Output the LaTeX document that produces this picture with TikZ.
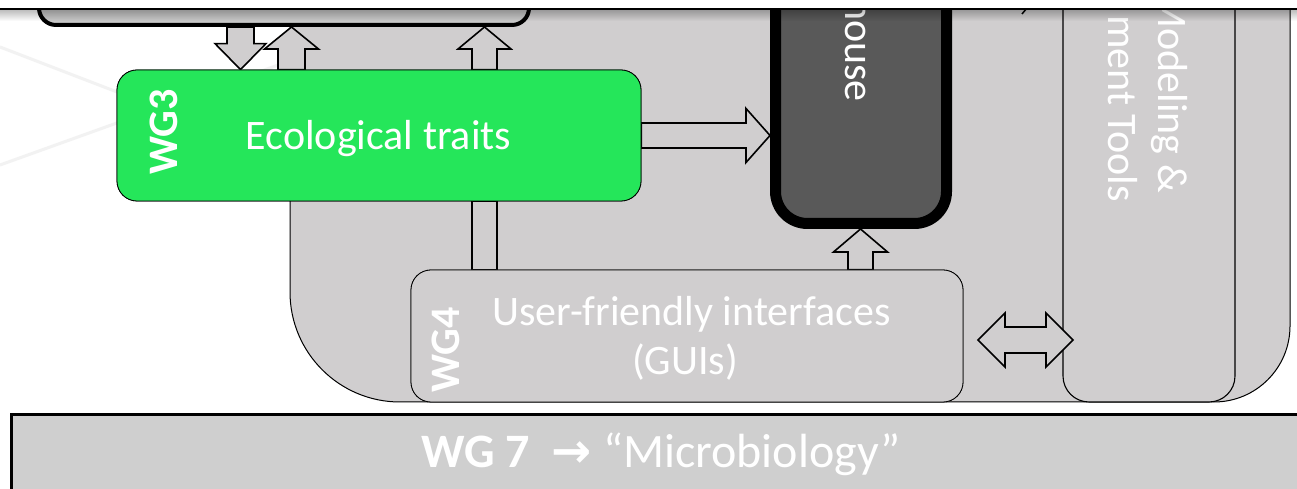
\documentclass[tikz,border=0pt]{standalone}
\usepackage{fontspec}
\setmainfont{Carlito}
\newfontfamily\arrowfont{DejaVu Sans}
\usetikzlibrary{calc}
\definecolor{regiongray}{HTML}{D0CECF}
\definecolor{wggreen}{HTML}{25E65A}
\definecolor{darkfill}{HTML}{595959}
\definecolor{bargray}{HTML}{CFCFCF}
\definecolor{topfill}{HTML}{C8C8C8}
\tikzset{
  blockarr/.style={draw=black, line width=1.6pt, fill=regiongray, line join=miter},
  thinbox/.style={draw=black, line width=0.8pt, rounded corners=20pt, inner sep=0pt},
  lbl/.style={text=white, font=\fontsize{42}{49}\selectfont, inner sep=0pt},
  wglbl/.style={text=white, font=\fontsize{42}{49}\selectfont\bfseries, inner sep=0pt},
  faint/.style={draw=gray!10, line width=3pt},
}
% block arrow: #1 tail, #2 tip, #3 shaft half width, #4 head half width, #5 head length
\newcommand\blockarrow[5]{%
  \coordinate (ba-h) at ($(#2)!#5!(#1)$);
  \draw[blockarr] ($(#1)!#3!90:(#2)$) -- ($(ba-h)!#3!-90:(#1)$) -- ($(ba-h)!#4!-90:(#1)$) -- (#2)
    -- ($(ba-h)!#4!90:(#1)$) -- ($(ba-h)!#3!90:(#1)$) -- ($(#1)!#3!-90:(#2)$) -- cycle;}
% double block arrow
\newcommand\dblockarrow[5]{%
  \coordinate (dba-h1) at ($(#1)!#5!(#2)$);
  \coordinate (dba-h2) at ($(#2)!#5!(#1)$);
  \draw[blockarr] (#1) -- ($(dba-h1)!#4!90:(#2)$) -- ($(dba-h1)!#3!90:(#2)$) -- ($(dba-h2)!#3!-90:(#1)$)
    -- ($(dba-h2)!#4!-90:(#1)$) -- (#2) -- ($(dba-h2)!#4!90:(#1)$) -- ($(dba-h2)!#3!90:(#1)$)
    -- ($(dba-h1)!#3!-90:(#2)$) -- ($(dba-h1)!#4!-90:(#2)$) -- cycle;}

\begin{document}
\begin{tikzpicture}[x=1pt,y=1pt]
\useasboundingbox (0,0) rectangle (1297,489);
\fill[white] (0,0) rectangle (1297,489);
\begin{scope}
\clip (0,0) rectangle (1297,480);
% faint background lines
\draw[faint] (0,442) -- (320,319);
\draw[faint] (0,324) -- (320,439);
% large grey region
\draw[fill=regiongray, line width=1pt] (290,560) -- (290,197) arc[start angle=180, end angle=270, radius=110]
  -- (1214,87) arc[start angle=270, end angle=360, radius=76] -- (1290,560) -- cycle;
% management tools panel
\node[draw=black, line width=1.1pt, fill=regiongray, rounded corners=26pt, inner sep=0pt,
  minimum width=172pt, minimum height=473pt] (mgmt) at (1149,323.5) {};
% top box
\node[draw=black, line width=4pt, fill=topfill, rounded corners=17pt, inner sep=0pt,
  minimum width=490pt, minimum height=96pt] (top) at (284,512) {};
% data warehouse box
\node[draw=black, line width=11pt, fill=darkfill, rounded corners=32pt, inner sep=0pt,
  minimum width=171pt, minimum height=294.5pt] (dark) at (861,412.75) {};
% WG3 and WG4 boxes
\node[thinbox, fill=wggreen, minimum width=524pt, minimum height=131pt] (wg3) at (379,353.5) {};
\node[thinbox, fill=regiongray, minimum width=552pt, minimum height=132pt] (wg4) at (687,153) {};
% guide coordinates
\coordinate (c1) at (240.5,0);
\coordinate (c2) at (291.5,0);
\coordinate (c3) at (484.5,0);
\coordinate (c5) at (860.5,0);
\coordinate (a1s) at (top.south -| c1);
\coordinate (a1e) at (wg3.north -| c1);
\coordinate (a2s) at (wg3.north -| c2);
\coordinate (a2e) at (top.south -| c2);
\coordinate (a3s) at (wg3.north -| c3);
\coordinate (a3e) at (top.south -| c3);
\coordinate (a4s) at (wg3.east);
\coordinate (a4e) at (dark.west |- wg3.east);
\coordinate (a5s) at (wg4.north -| c5);
\coordinate (a5e) at (dark.south -| c5);
\coordinate (a6s) at (wg3.south -| c3);
\coordinate (a6e) at (wg4.north -| c3);
\coordinate (da1) at (978,149);
\coordinate (da2) at (1073,149);
% arrows
\blockarrow{a1s}{a1e}{13.5pt}{25.5pt}{26pt}
\blockarrow{a2s}{a2e}{13.5pt}{27pt}{22pt}
\blockarrow{a3s}{a3e}{12.5pt}{26.5pt}{22pt}
\blockarrow{a4s}{a4e}{12.5pt}{27pt}{24pt}
\blockarrow{a5s}{a5e}{12.5pt}{27pt}{23pt}
\draw[blockarr] ($(a6s)+(-12.5,0)$) rectangle ($(a6e)+(12.5,0)$);
% redraw boxes over arrow ends
\node[thinbox, fill=wggreen, minimum width=524pt, minimum height=131pt] at (wg3) {};
\node[thinbox, fill=regiongray, minimum width=552pt, minimum height=132pt] at (wg4) {};
\dblockarrow{da1}{da2}{13pt}{27pt}{27pt}
% bottom bar
\draw[fill=bargray, line width=3pt] (11.5,-10) rectangle (1310,74.5);
% texts
\node[lbl, anchor=base] (t-eco) at (378.5,339) {Ecological traits};
\node[wglbl, rotate=90, anchor=base west] (t-wg3) at (177,314) {WG3};
\node[lbl, anchor=base] (t-ui1) at (691.5,163) {User-friendly interfaces};
\node[lbl, anchor=base] (t-ui2) at (685,114) {(GUIs)};
\node[wglbl, rotate=90, anchor=base west] (t-wg4) at (459,96) {WG4};
\node[lbl, rotate=-90, anchor=base east] (t-house) at (845,387) {house};
\node[lbl, rotate=-90, anchor=base east] (t-mod1) at (1158,296) {Modeling \&};
\node[lbl, rotate=-90, anchor=base east] (t-mod2) at (1108,287) {ment Tools};
\node[lbl, font=\fontsize{48}{56}\selectfont, anchor=base] (t-wg7) at (661,21) {\textbf{WG 7}\ \ {\arrowfont\bfseries →}\ “Microbiology”};
% top shadow
\foreach \i in {0,...,11}{
  \pgfmathsetmacro\op{0.28*(1-\i/12)}
  \fill[black, opacity=\op] (0,480-\i) rectangle (1297,479-\i);
}
\draw[line width=1.5pt] (1027,481) -- (1022,475);
\end{scope}
\draw[line width=1.4pt] (0,480) -- (1297,480);
\end{tikzpicture}
\end{document}
